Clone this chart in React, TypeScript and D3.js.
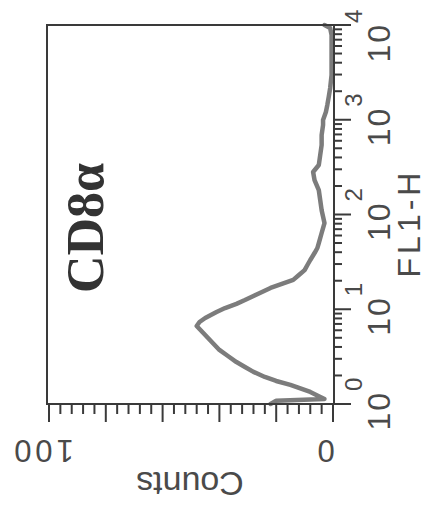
import React from "react";
import * as d3 from "d3";

// FL1-H channel value (log axis) and cell counts
const fl1Values = [
  1.0, 1.08, 1.13, 1.21, 1.34, 1.48, 1.59, 1.75, 1.93, 2.18, 2.46, 2.77, 3.21, 3.72, 4.3, 4.97,
  5.75, 6.66, 7.33, 8.09, 9.35, 10.3, 11.4, 12.5, 13.8, 15.2, 16.8, 18.5, 20.4, 23.0, 25.9, 29.3,
  33.1, 39.2, 44.3, 50.0, 63.8, 81.3, 111, 142, 181, 231, 281, 333, 425, 542, 690, 881, 994,
  1207, 1432, 1740, 2162, 2966, 4823, 7846, 9295, 10000,
];
const countValues = [
  22, 20, 3, 5, 8, 12, 15, 20, 24, 28, 31, 34, 37, 40, 42, 44,
  46, 48, 47, 45, 41, 38, 34, 31, 28, 25, 22, 18, 14, 12, 10, 9,
  8, 6.5, 5.5, 5, 4, 3, 4, 4.5, 5, 6.5, 7, 5, 4.5, 4, 4, 3.5, 3.5,
  2.5, 2, 1.5, 1, 0.5, 0.5, 0.5, 1, 3,
];
const decadeExponents = ["0", "1", "2", "3", "4"];
const countTickLabels = [0, 100];
const sampleLabel = "CD8α";
const xAxisTitle = "FL1-H";
const yAxisTitle = "Counts";

export default function App() {
  const W = 427;
  const H = 517;
  const left = 47;
  const right = 334;
  const top = 25;
  const bottom = 404;

  const xs = d3.scaleLinear().domain([0, 100]).range([333, 49]);
  const ys = d3.scaleLog().domain([1, 10000]).range([bottom, top]);

  const data = fl1Values.map((v, i) => ({ v, c: countValues[i] }));
  const line = d3
    .line<{ v: number; c: number }>()
    .x((d) => xs(d.c))
    .y((d) => ys(d.v))
    .curve(d3.curveLinear);

  const logTicks = ys.ticks();
  const isDecade = (t: number) => Math.abs(Math.log10(t) - Math.round(Math.log10(t))) < 1e-9;
  const countTicks = d3.range(0, 101, 4);

  const ink = "#3a3a3a";
  const textInk = "#4a4a4a";
  const sans = "'Liberation Sans', Arial, sans-serif";

  return (
    <svg
      width={W}
      height={H}
      style={{ position: "absolute", left: 0, top: 0, background: "#fff" }}
    >
      <rect x={0} y={0} width={W} height={H} fill="#fff" />

      {/* histogram */}
      <path
        d={line(data) || ""}
        fill="none"
        stroke="#7c7c7c"
        strokeWidth={4.5}
        strokeLinejoin="round"
        strokeLinecap="round"
      />

      {/* frame */}
      <rect
        x={left}
        y={top}
        width={right - left}
        height={bottom - top}
        fill="none"
        stroke={ink}
        strokeWidth={2}
      />

      {/* FL1-H axis ticks (right side) */}
      {logTicks.map((t, i) => (
        <line
          key={"lt" + i}
          x1={right}
          x2={right + (isDecade(t) ? 17 : 8)}
          y1={ys(t)}
          y2={ys(t)}
          stroke={ink}
          strokeWidth={2}
        />
      ))}

      {/* Counts axis ticks (bottom) */}
      {countTicks.map((t, i) => (
        <line
          key={"ct" + i}
          x1={xs(t)}
          x2={xs(t)}
          y1={bottom}
          y2={bottom + (t % 20 === 0 ? 18 : 10)}
          stroke={ink}
          strokeWidth={2}
        />
      ))}

      {/* decade labels */}
      {decadeExponents.map((e, i) => {
        const cy = Math.max(ys(Math.pow(10, i)), top + 11);
        return (
          <text
            key={"dl" + i}
            transform={`translate(390, ${cy}) rotate(-90)`}
            textAnchor="middle"
            fontFamily={sans}
            fill={textInk}
          >
            <tspan fontSize={32} letterSpacing={2}>10</tspan>
            <tspan fontSize={24} dy={-28}>
              {e}
            </tspan>
          </text>
        );
      })}

      {/* count labels (upside down) */}
      {countTickLabels.map((c, i) => (
        <text
          key={"cl" + i}
          transform={`translate(${xs(c) - 7}, 440) rotate(180)`}
          textAnchor="middle"
          fontFamily={sans}
          fontSize={31}
          letterSpacing={c === 100 ? 4 : 0}
          fill={textInk}
        >
          {String(c)}
        </text>
      ))}

      {/* axis titles */}
      <text
        transform={`translate(190, 472) rotate(180)`}
        textAnchor="middle"
        fontFamily={sans}
        fontSize={34}
        fill={textInk}
      >
        {yAxisTitle}
      </text>
      <text
        transform={`translate(420, 223) rotate(-90)`}
        textAnchor="middle"
        fontFamily={sans}
        fontSize={32}
        letterSpacing={4}
        fill={textInk}
      >
        {xAxisTitle}
      </text>

      {/* sample label */}
      <text
        transform={`translate(103, 228) rotate(-90)`}
        textAnchor="middle"
        fontFamily="'Liberation Serif', 'Times New Roman', serif"
        fontWeight="bold"
        fontSize={52}
        fill="#333"
      >
        {sampleLabel}
      </text>
    </svg>
  );
}
